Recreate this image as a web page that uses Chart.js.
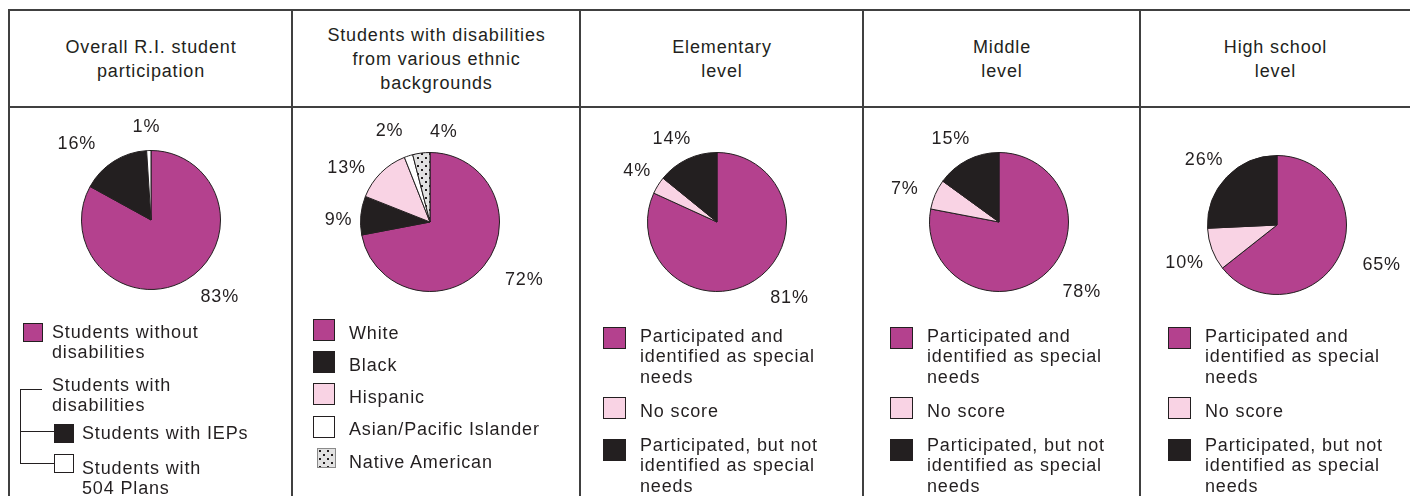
<!DOCTYPE html>
<html>
<head>
<meta charset="utf-8">
<script src="https://cdn.jsdelivr.net/npm/chart.js@4.4.1/dist/chart.umd.min.js"></script>
<style>
  html, body { margin: 0; padding: 0; background: #fff; }
  body {
    width: 1410px; height: 496px; position: relative; overflow: hidden;
    font-family: "Liberation Sans", Arial, Helvetica, sans-serif; color: #231f20;
  }
  .line { position: absolute; background: #404040; }
  .rule { position: absolute; background: #231f20; }
  .title {
    position: absolute; top: 11px; height: 95px;
    display: flex; align-items: center; justify-content: center; text-align: center;
    font-size: 18px; line-height: 24px; letter-spacing: 0.85px; white-space: pre;
  }
  .pie { position: absolute; }
  .sw { position: absolute; box-sizing: border-box; border: 1px solid #231f20; }
  .txt { position: absolute; font-size: 18px; line-height: 20.5px; letter-spacing: 0.85px; white-space: pre; }
</style>
</head>
<body>
<script>
// ---- data ----
const panelTitles = [
  "Overall R.I. student\nparticipation",
  "Students with disabilities\nfrom various ethnic\nbackgrounds",
  "Elementary\nlevel",
  "Middle\nlevel",
  "High school\nlevel",
];
const overallLabels = ["Students without\ndisabilities", "Students with IEPs", "Students with\n504 Plans"];
const overallGroup = "Students with\ndisabilities";
const overallValues = [83, 16, 1];

const ethnicLabels = ["White", "Black", "Hispanic", "Asian/Pacific Islander", "Native American"];
const ethnicValues = [72, 9, 13, 2, 4];

const levelLabels = [
  "Participated and\nidentified as special\nneeds",
  "No score",
  "Participated, but not\nidentified as special\nneeds",
];
const elementaryValues = [81, 4, 14];
const middleValues = [78, 7, 15];
const highValues = [65, 10, 26];

// ---- styles ----
const PURPLE = "#b4418e";
const INK = "#231f20";
const PINK = "#f9d3e4";
const WHITE = "#ffffff";

// dotted fill for Native American
const dotTile = document.createElement("canvas");
dotTile.width = 8;
dotTile.height = 8;
const dg = dotTile.getContext("2d");
dg.fillStyle = "#e2e2e2";
dg.fillRect(0, 0, 8, 8);
dg.fillStyle = INK;
dg.fillRect(1, 1, 2, 2);
dg.fillRect(5, 5, 2, 2);
const DOTS = dg.createPattern(dotTile, "repeat");

const edges = [9, 292, 580, 863, 1140, 1410];

// pie placement + label nudges (degrees / px)
const panels = [
  { cx: 151, cy: 220, values: overallValues, labels: overallLabels,
    colors: [PURPLE, INK, WHITE], turn: [-11, -12, -1], push: [1, 3, 1] },
  { cx: 430, cy: 221.5, values: ethnicValues, labels: ethnicLabels,
    colors: [PURPLE, INK, PINK, WHITE, DOTS], turn: [-8, -4, -12, -6, 16], push: [6, -7, -5, 3, -3] },
  { cx: 716.5, cy: 222, values: elementaryValues, labels: levelLabels,
    colors: [PURPLE, PINK, INK], turn: [-11, 1, -3], push: [2, -5, -5] },
  { cx: 998.5, cy: 222, values: middleValues, labels: levelLabels,
    colors: [PURPLE, PINK, INK], turn: [-10, -4, -3], push: [5, 0, -4] },
  { cx: 1276.5, cy: 224.5, values: highValues, labels: levelLabels,
    colors: [PURPLE, PINK, INK], turn: [-5, -2, -2], push: [7, -5, -6] },
];

function el(cls, css, text) {
  const d = document.createElement("div");
  d.className = cls;
  Object.assign(d.style, css);
  if (text !== undefined) d.textContent = text;
  document.body.appendChild(d);
  return d;
}
const px = (v) => v + "px";

// frame
el("line", { left: px(9), top: px(9), width: px(1401), height: px(2) });
el("line", { left: px(9), top: px(106), width: px(1401), height: px(2) });
edges.slice(0, 5).forEach((x) => {
  el("line", { left: px(x - 1), top: px(9), width: px(2), height: px(487) });
});

// titles
panelTitles.forEach((t, i) => {
  el("title", { left: px(edges[i] + 1), width: px(edges[i + 1] - edges[i] - 1) }, t);
});

// percentage labels outside each slice
const pctLabels = {
  id: "pctLabels",
  afterDatasetsDraw(chart, args, opts) {
    const ctx = chart.ctx;
    const meta = chart.getDatasetMeta(0);
    const vals = chart.data.datasets[0].data;
    ctx.save();
    ctx.font = '18px "Liberation Sans", Arial, sans-serif';
    ctx.letterSpacing = "0.85px";
    ctx.fillStyle = INK;
    ctx.textAlign = "center";
    ctx.textBaseline = "middle";
    meta.data.forEach((arc, i) => {
      const p = arc.getProps(["x", "y", "startAngle", "endAngle", "outerRadius"], true);
      const a = (p.startAngle + p.endAngle) / 2 + ((opts.turn[i] || 0) * Math.PI) / 180;
      const text = vals[i] + "%";
      const w = ctx.measureText(text).width;
      const ext = (Math.abs(Math.cos(a)) * w) / 2 + Math.abs(Math.sin(a)) * 7;
      const d = p.outerRadius + 15 + ext + (opts.push[i] || 0);
      ctx.fillText(text, p.x + Math.cos(a) * d, p.y + Math.sin(a) * d);
    });
    ctx.restore();
  },
};

panels.forEach((p) => {
  const holder = el("pie", { left: px(p.cx - 130), top: px(p.cy - 110), width: px(260), height: px(220) });
  const cv = document.createElement("canvas");
  cv.width = 260;
  cv.height = 220;
  holder.appendChild(cv);
  new Chart(cv, {
    type: "pie",
    data: {
      labels: p.labels,
      datasets: [{
        data: p.values,
        backgroundColor: p.colors,
        borderColor: INK,
        borderWidth: 1,
        hoverOffset: 0,
      }],
    },
    options: {
      responsive: false,
      animation: false,
      radius: 69.5,
      layout: { padding: 0 },
      events: [],
      plugins: {
        legend: { display: false },
        tooltip: { enabled: false },
        pctLabels: { turn: p.turn, push: p.push },
      },
    },
    plugins: [pctLabels],
  });
});

// ---- legends ----
function swatch(x, y, w, h, fill) {
  const css = { left: px(x), top: px(y), width: px(w), height: px(h) };
  if (fill === DOTS) {
    css.backgroundImage = "url(" + dotTile.toDataURL() + ")";
    css.borderColor = "#8a8a8a";
  } else {
    css.background = fill;
  }
  el("sw", css);
}
function label(x, centerY, str) {
  el("txt", { left: px(x), top: px(centerY - 10.25) }, str);
}

// panel 1, with the bracket for students with disabilities
swatch(23, 323, 20, 19, PURPLE);
label(52, 332, overallLabels[0]);
label(52, 385, overallGroup);
el("rule", { left: px(20), top: px(389), width: px(22), height: px(1) });
el("rule", { left: px(20), top: px(389), width: px(1), height: px(75) });
el("rule", { left: px(20), top: px(431), width: px(34), height: px(1) });
el("rule", { left: px(20), top: px(463), width: px(34), height: px(1) });
swatch(54, 424, 20, 19, INK);
label(82, 433, overallLabels[1]);
swatch(54, 454, 20, 19, WHITE);
label(82, 468, overallLabels[2]);

// panel 2
ethnicLabels.forEach((t, i) => {
  const top = 319 + i * 32.2;
  const fill = panels[1].colors[i];
  if (fill === DOTS) swatch(317, top, 19, 20, fill);
  else swatch(313, top, 22, 22, fill);
  label(349, top + 14, t);
});

// panels 3-5
const levelTextX = [640, 927, 1205];
const levelSwatchTop = [327, 397, 439];
const levelTextCenter = [336, 411, 445];
[2, 3, 4].forEach((k, j) => {
  levelLabels.forEach((t, i) => {
    swatch(levelTextX[j] - 37, levelSwatchTop[i], 23, 22, panels[k].colors[i]);
    label(levelTextX[j], levelTextCenter[i], t);
  });
});
</script>
</body>
</html>
